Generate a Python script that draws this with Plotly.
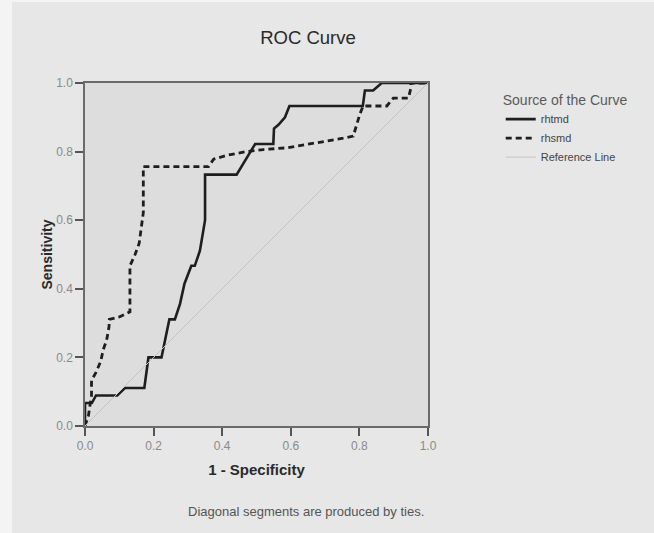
import plotly.graph_objects as go

# ROC curve data
rhtmd_fpr = [0, 0, 0.02, 0.032, 0.094, 0.117, 0.173, 0.185, 0.223, 0.246, 0.262, 0.277, 0.29, 0.306,
             0.31, 0.32, 0.335, 0.35, 0.35, 0.442, 0.481, 0.496, 0.549, 0.551, 0.564, 0.583, 0.596,
             0.81, 0.816, 0.84, 0.865, 1.0]
rhtmd_tpr = [0, 0.067, 0.067, 0.089, 0.089, 0.111, 0.111, 0.2, 0.2, 0.311, 0.311, 0.356, 0.415, 0.456,
             0.467, 0.467, 0.511, 0.6, 0.733, 0.733, 0.8, 0.822, 0.822, 0.867, 0.878, 0.9, 0.933,
             0.933, 0.978, 0.978, 1.0, 1.0]

rhsmd_fpr = [0, 0.01, 0.019, 0.019, 0.032, 0.046, 0.053, 0.063, 0.07, 0.071, 0.1, 0.131, 0.131, 0.146,
             0.158, 0.165, 0.17, 0.17, 0.36, 0.375, 0.413, 0.471, 0.52, 0.588, 0.656, 0.714, 0.753,
             0.782, 0.792, 0.802, 0.811, 0.88, 0.899, 0.943, 0.95, 0.95, 1.0]
rhsmd_tpr = [0, 0.03, 0.09, 0.133, 0.156, 0.189, 0.222, 0.25, 0.289, 0.311, 0.318, 0.333, 0.467, 0.5,
             0.533, 0.578, 0.622, 0.756, 0.756, 0.778, 0.789, 0.8, 0.806, 0.811, 0.822, 0.833, 0.839,
             0.845, 0.878, 0.911, 0.933, 0.933, 0.956, 0.956, 0.985, 1.0, 1.0]

ref_x = [0, 1]
ref_y = [0, 1]

tick_vals = [0.0, 0.2, 0.4, 0.6, 0.8, 1.0]
tick_text = ["0.0", "0.2", "0.4", "0.6", "0.8", "1.0"]

FONT = "Liberation Sans, Arial, sans-serif"

fig = go.Figure()
fig.add_trace(go.Scatter(x=rhtmd_fpr, y=rhtmd_tpr, mode="lines", name="rhtmd",
                         line=dict(color="#1e1e1e", width=2.6)))
fig.add_trace(go.Scatter(x=rhsmd_fpr, y=rhsmd_tpr, mode="lines", name="rhsmd",
                         line=dict(color="#1e1e1e", width=2.8, dash="6px,4px")))
fig.add_trace(go.Scatter(x=ref_x, y=ref_y, mode="lines", name="Reference Line",
                         line=dict(color="#c4c4c4", width=1)))

axis_common = dict(
    range=[0, 1], tickvals=tick_vals, ticktext=tick_text,
    showgrid=False, zeroline=False,
    showline=True, linecolor="#6a6a6a", linewidth=1.5, mirror=True,
    ticks="outside", ticklen=8, tickcolor="#555555", tickwidth=1.5,
    tickfont=dict(family=FONT, size=12, color="#8a8a8a"),
    fixedrange=True,
)

fig.update_layout(
    width=654, height=533,
    margin=dict(l=85, r=226, t=83, b=107),
    paper_bgcolor="#e6e7e6",
    plot_bgcolor="#dcdddc",
    font=dict(family=FONT),
    title=dict(text="ROC Curve", x=308 / 654, xanchor="center", y=1 - 38 / 533, yanchor="middle",
               font=dict(family=FONT, size=18.5, color="#2a2a2a")),
    xaxis=dict(axis_common, title=dict(text="<b>1 - Specificity</b>", standoff=12,
                                       font=dict(family=FONT, size=15, color="#2a2a2a"))),
    yaxis=dict(axis_common, title=dict(text="<b>Sensitivity</b>", standoff=0,
                                       font=dict(family=FONT, size=14, color="#2a2a2a"))),
    showlegend=True,
    hovermode=False,
    legend=dict(
        x=1.212, y=0.99, xanchor="left", yanchor="top",
        bgcolor="rgba(0,0,0,0)",
        title=dict(text="Source of the Curve", font=dict(family=FONT, size=14, color="#5a5a5a")),
        font=dict(family=FONT, size=11, color="#444444"),
        itemwidth=30,
        tracegroupgap=0,
    ),
    annotations=[
        dict(text="Diagonal segments are produced by ties.", xref="paper", yref="paper",
             x=0.643, y=-0.248, xanchor="center", yanchor="middle", showarrow=False,
             font=dict(family=FONT, size=13, color="#555555")),
    ],
    shapes=[
        dict(type="rect", xref="paper", yref="paper", x0=-85 / 343, x1=-73 / 343,
             y0=-107 / 343, y1=426 / 343, fillcolor="#f4f4f4", line=dict(width=0), layer="below"),
        dict(type="rect", xref="paper", yref="paper", x0=-85 / 343, x1=569 / 343,
             y0=424 / 343, y1=426 / 343, fillcolor="#f4f4f4", line=dict(width=0), layer="below"),
    ],
)

fig.write_html("out.html", config={"displayModeBar": False},
               post_script="document.body.style.margin='0';")
